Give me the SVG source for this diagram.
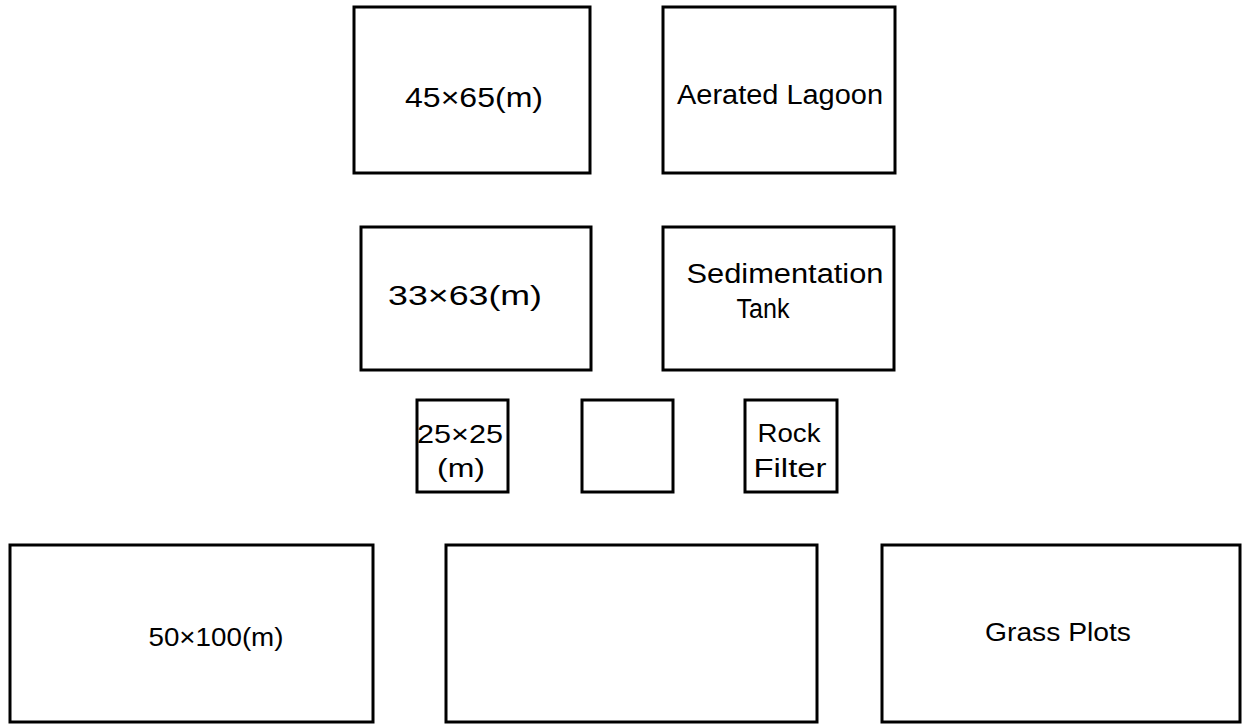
<svg xmlns="http://www.w3.org/2000/svg" width="1248" height="728" viewBox="0 0 1248 728">
<style>
.box{fill:#fff;stroke:#000;stroke-width:3}
.t{font-family:"Liberation Sans","DejaVu Sans",sans-serif;font-size:27px;fill:#000;text-anchor:middle}
.s{font-size:25px}
</style>
<rect width="1248" height="728" fill="#fff"/>
<g id="connectors"></g>
<g id="n1"><rect class="box" x="354" y="7" width="236" height="166"/><text class="t" x="474" y="107" textLength="138" lengthAdjust="spacingAndGlyphs">45×65(m)</text></g>
<g id="n2"><rect class="box" x="663" y="7" width="232" height="166"/><text class="t" x="780" y="104" textLength="206" lengthAdjust="spacingAndGlyphs">Aerated Lagoon</text></g>
<g id="n3"><rect class="box" x="361" y="227" width="230" height="143"/><text class="t" x="465" y="305" textLength="154" lengthAdjust="spacingAndGlyphs">33×63(m)</text></g>
<g id="n4"><rect class="box" x="663" y="227" width="231" height="143"/><text class="t" x="785" y="283" textLength="197" lengthAdjust="spacingAndGlyphs">Sedimentation</text><text class="t" x="763" y="318" textLength="53" lengthAdjust="spacingAndGlyphs">Tank</text></g>
<g id="n5"><rect class="box" x="417" y="400" width="91" height="92"/><text class="t s" x="460" y="443" textLength="86" lengthAdjust="spacingAndGlyphs">25×25</text><text class="t s" x="461" y="477" textLength="48" lengthAdjust="spacingAndGlyphs">(m)</text></g>
<g id="n6"><rect class="box" x="582" y="400" width="91" height="92"/></g>
<g id="n7"><rect class="box" x="745" y="400" width="92" height="92"/><text class="t s" x="789" y="442" textLength="63" lengthAdjust="spacingAndGlyphs">Rock</text><text class="t s" x="790" y="477" textLength="73" lengthAdjust="spacingAndGlyphs">Filter</text></g>
<g id="n8"><rect class="box" x="10" y="545" width="363" height="177"/><text class="t s" x="216" y="646" textLength="135" lengthAdjust="spacingAndGlyphs">50×100(m)</text></g>
<g id="n9"><rect class="box" x="446" y="545" width="371" height="177"/></g>
<g id="n10"><rect class="box" x="882" y="545" width="358" height="177"/><text class="t s" x="1058" y="641" textLength="146" lengthAdjust="spacingAndGlyphs">Grass Plots</text></g>
</svg>
